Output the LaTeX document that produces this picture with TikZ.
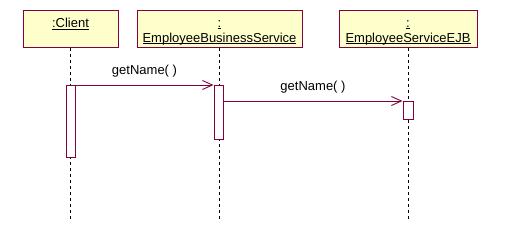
\documentclass[tikz,border=0pt]{standalone}
\usepackage{fontspec}
\setmainfont{Liberation Sans}
\usetikzlibrary{arrows.meta}
\definecolor{umlline}{RGB}{128,0,64}
\definecolor{umlfill}{RGB}{255,255,204}
% underline at a fixed depth below the baseline
\newcommand\objul[1]{\setbox0\hbox{#1}\rlap{\vrule height -1.4pt depth 2.3pt width \wd0}\box0}
\begin{document}
\begin{tikzpicture}[x=1pt,y=-1pt,
  objbox/.style={draw=umlline, fill=umlfill, line width=1pt, rectangle,
    inner sep=0pt, minimum height=37pt, anchor=north},
  objname/.style={font=\fontsize{13}{15}\selectfont, align=center,
    inner sep=0pt, anchor=north},
  lifeline/.style={draw=black, line width=1pt, dash pattern=on 3pt off 3pt},
  activation/.style={draw=umlline, fill=white, line width=1pt, rectangle,
    inner sep=0pt, anchor=north},
  message/.style={draw=umlline, line width=0.9pt,
    -{Straight Barb[length=10pt,width=9pt]}},
  msglabel/.style={font=\fontsize{13}{15}\selectfont, inner sep=0pt}]
  \useasboundingbox[fill=white] (0,0) rectangle (514,243);

  % object boxes
  \node[objbox, minimum width=95pt]  (client) at (70.5,10) {};
  \node[objbox, minimum width=165pt] (ebs)    at (219.5,10) {};
  \node[objbox, minimum width=138pt] (ejb)    at (408,10) {};
  \node[objname] (clientname) at (70.5,18) {\objul{:Client}};
  \node[objname] (ebsname)    at (219.5,20) {\objul{:}\\\objul{EmployeeBusinessService}};
  \node[objname] (ejbname)    at (408,20) {\objul{:}\\\objul{EmployeeServiceEJB}};

  % lifeline ends
  \coordinate (clientend) at (70.5,219);
  \coordinate (ebsend)    at (219,219);
  \coordinate (ejbend)    at (408,219);
  \draw[lifeline] (client.south) -- (clientend);
  \draw[lifeline] (ebs.south -| ebsend) -- (ebsend);
  \draw[lifeline] (ejb.south) -- (ejbend);

  % activation bars
  \node[activation, minimum width=9pt,  minimum height=72pt] (clientact) at (70.5,85) {};
  \node[activation, minimum width=9pt,  minimum height=54pt] (ebsact)    at (218.5,85) {};
  \node[activation, minimum width=10pt, minimum height=18pt] (ejbact)    at (408,101) {};

  % messages
  \draw[message] (clientact.north east) -- (ebsact.north west)
    node[msglabel, midway, above=7pt] (msg1) {getName( )};
  \draw[message] (ebsact.east |- ejbact.north) -- (ejbact.north west)
    node[msglabel, midway, above=7pt] (msg2) {getName( )};
\end{tikzpicture}
\end{document}
